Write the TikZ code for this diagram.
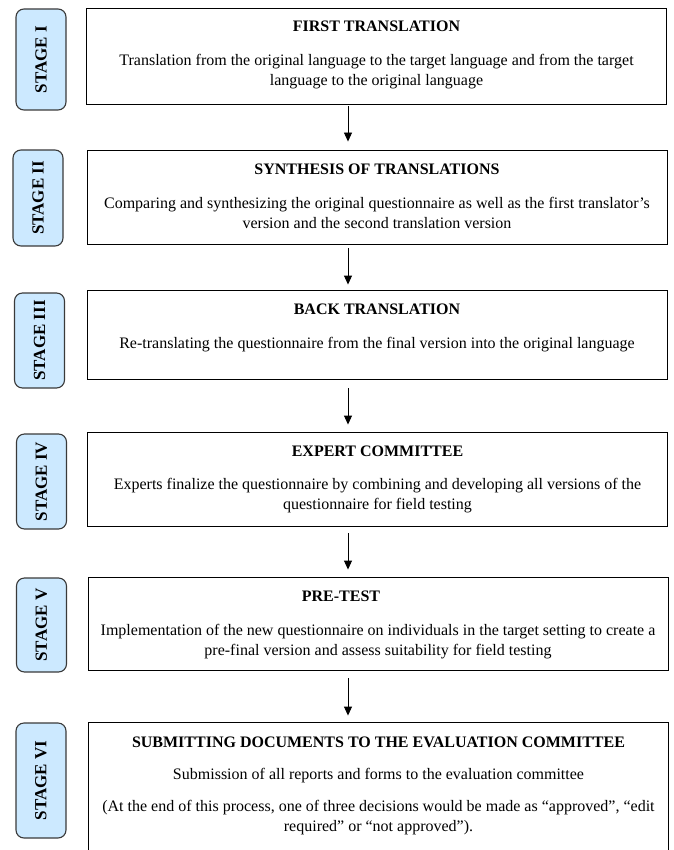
\documentclass[tikz,border=0pt]{standalone}
\usepackage{fontspec}
\setmainfont{Liberation Serif}
\usepackage{xcolor}
\usetikzlibrary{arrows.meta}

\definecolor{stageblue}{HTML}{CCE9FF}
\definecolor{stageedge}{HTML}{3A3A3A}

\tikzset{
  stagebox/.style={draw=stageedge, fill=stageblue, rounded corners=8pt, line width=1.1pt,
    rotate=90, minimum height=50pt, inner sep=0pt, font=\fontsize{17}{20}\selectfont\bfseries},
  mainbox/.style={draw, line width=0.9pt, minimum width=580pt, inner sep=0pt},
  boxtext/.style={anchor=north, align=center, inner sep=0pt, font=\fontsize{16}{20}\selectfont},
  flow/.style={-{Triangle[length=9pt,width=8pt]}, line width=0.9pt},
}

\begin{document}
\begin{tikzpicture}[x=1pt,y=-1pt]
  \useasboundingbox (0,0) rectangle (673,850);

  % stage labels
  \node[stagebox, minimum width=101pt] (s1) at (41,59.5) {STAGE I};
  \node[stagebox, minimum width=96pt] (s2) at (38,198) {STAGE II};
  \node[stagebox, minimum width=95pt] (s3) at (39.5,340.5) {STAGE III};
  \node[stagebox, minimum width=95pt] (s4) at (41.5,481.5) {STAGE IV};
  \node[stagebox, minimum width=94pt] (s5) at (41.5,625) {STAGE V};
  \node[stagebox, minimum width=115pt] (s6) at (41,780.5) {STAGE VI};

  % boxes
  \node[mainbox, minimum height=96pt] (b1) at (376.5,56) {};
  \node[mainbox, minimum height=94pt] (b2) at (377,197) {};
  \node[mainbox, minimum height=89pt] (b3) at (377,334.5) {};
  \node[mainbox, minimum height=94pt] (b4) at (377.5,479) {};
  \node[mainbox, minimum height=93pt] (b5) at (378,623.5) {};
  \node[mainbox, minimum height=150pt] (b6) at (378.5,797) {};

  % box texts
  \node[boxtext] (t1) at ([yshift=-13pt]b1.north) {\textbf{FIRST TRANSLATION}\\[14pt]
    Translation from the original language to the target language and from the target\\
    language to the original language};
  \node[boxtext] (t2) at ([yshift=-14pt]b2.north) {\textbf{SYNTHESIS OF TRANSLATIONS}\\[14pt]
    Comparing and synthesizing the original questionnaire as well as the first translator's\\
    version and the second translation version};
  \node[boxtext] (t3) at ([yshift=-14pt]b3.north) {\textbf{BACK TRANSLATION}\\[14pt]
    Re-translating the questionnaire from the final version into the original language};
  \node[boxtext] (t4) at ([yshift=-14pt]b4.north) {\textbf{EXPERT COMMITTEE}\\[13pt]
    Experts finalize the questionnaire by combining and developing all versions of the\\
    questionnaire for field testing};
  \node[boxtext] (t5) at ([yshift=-14pt]b5.north) {\textbf{PRE-TEST}\hspace*{74pt}\\[14pt]
    Implementation of the new questionnaire on individuals in the target setting to create a\\
    pre-final version and assess suitability for field testing};
  \node[boxtext] (t6) at ([yshift=-15pt]b6.north) {\textbf{SUBMITTING DOCUMENTS TO THE EVALUATION COMMITTEE}\\[12pt]
    Submission of all reports and forms to the evaluation committee\\[12pt]
    (At the end of this process, one of three decisions would be made as ``approved'', ``edit\\
    required'' or ``not approved'').};

  % arrows
  \draw[flow, shorten <=2pt, shorten >=8pt] ([xshift=-28.5pt]b1.south) -- ([xshift=-29pt]b2.north);
  \draw[flow, shorten <=4pt, shorten >=5pt] ([xshift=-29pt]b2.south) -- ([xshift=-29pt]b3.north);
  \draw[flow, shorten <=9pt, shorten >=7pt] ([xshift=-29pt]b3.south) -- ([xshift=-29.5pt]b4.north);
  \draw[flow, shorten <=7pt, shorten >=7pt] ([xshift=-29.5pt]b4.south) -- ([xshift=-30pt]b5.north);
  \draw[flow, shorten <=8pt, shorten >=6pt] ([xshift=-30pt]b5.south) -- ([xshift=-30.5pt]b6.north);
\end{tikzpicture}
\end{document}
